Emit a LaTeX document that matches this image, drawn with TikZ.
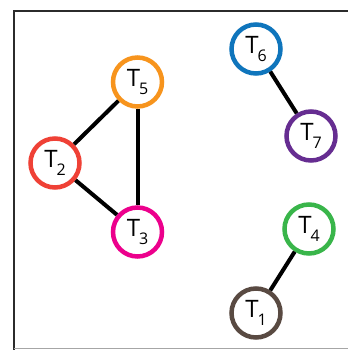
\documentclass[tikz,border=0pt]{standalone}
\usepackage{fontspec}
\setmainfont{Open Sans}
\definecolor{corange}{HTML}{F7941D}
\definecolor{cblue}{HTML}{0F75BC}
\definecolor{cpurple}{HTML}{662D91}
\definecolor{cred}{HTML}{EF4136}
\definecolor{cmagenta}{HTML}{EC008C}
\definecolor{cgreen}{HTML}{39B54A}
\definecolor{cbrown}{HTML}{594A42}
\definecolor{frame}{HTML}{2B2B2B}
\newcommand{\tlab}[1]{\fontsize{24}{24}\selectfont T\kern-1pt\raisebox{-8.5pt}{\fontsize{16}{16}\selectfont #1}}
\tikzset{
  tnode/.style={circle, draw=#1, line width=4.5pt, minimum size=49pt, inner sep=0pt, fill=white, text=black},
  tedge/.style={line width=4pt, black}
}
\begin{document}
\begin{tikzpicture}[x=1pt,y=-1pt]
\useasboundingbox (0,0) rectangle (348,350);
\draw[frame, line width=2pt] (13.5,350) -- (13.5,11) -- (348,11);
\draw[gray!70, line width=1.2pt] (13.5,348.8) -- (348,348.8);
\node[tnode=corange] (t5) at (137.5,82) {\tlab{5}};
\node[tnode=cblue] (t6) at (256,49) {\tlab{6}};
\node[tnode=cred] (t2) at (55,163) {\tlab{2}};
\node[tnode=cmagenta] (t3) at (137.5,232) {\tlab{3}};
\node[tnode=cpurple] (t7) at (311,136) {\tlab{7}};
\node[tnode=cgreen] (t4) at (309,229) {\tlab{4}};
\node[tnode=cbrown] (t1) at (256,313) {\tlab{1}};
\draw[tedge] (t2) -- (t5);
\draw[tedge] (t2) -- (t3);
\draw[tedge] (t5) -- (t3);
\draw[tedge] (t6) -- (t7);
\draw[tedge] (t4) -- (t1);
\end{tikzpicture}
\end{document}
